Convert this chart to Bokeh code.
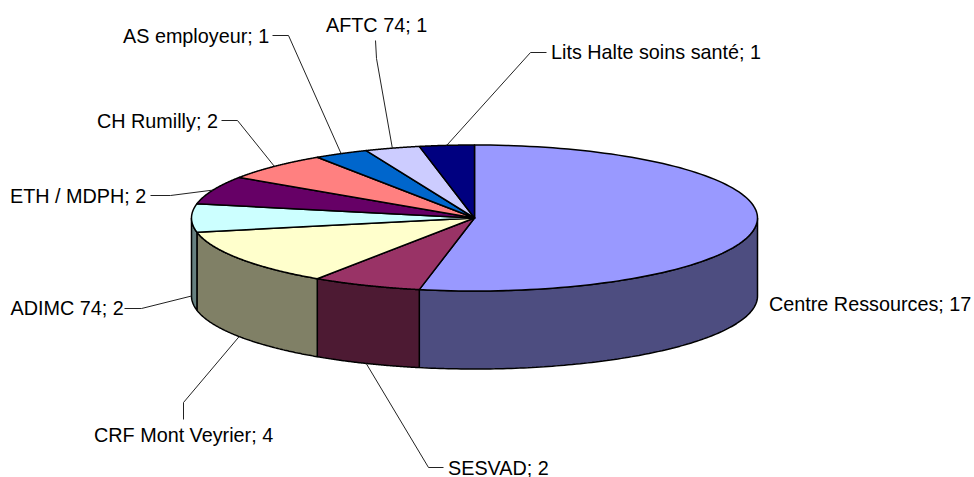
import numpy as np
from bokeh.plotting import figure
from bokeh.models import Range1d
from bokeh.core.properties import value
from bokeh.embed import file_html
from bokeh.resources import INLINE

names = ["Centre Ressources", "SESVAD", "CRF Mont Veyrier", "ADIMC 74", "ETH / MDPH",
         "CH Rumilly", "AS employeur", "AFTC 74", "Lits Halte soins santé"]
counts = [17, 2, 4, 2, 2, 2, 1, 1, 1]
top_colors = ["#9999FF", "#993366", "#FFFFCC", "#CCFFFF", "#660066",
              "#FF8080", "#0066CC", "#CCCCFF", "#000080"]
side_colors = ["#4D4D80", "#4D1A33", "#808066", "#668080", "#330033",
               "#804040", "#003366", "#666680", "#000040"]

# layout (picture pixels)
CX, CY, RX, RY, DEPTH = 474, 217.5, 283, 73, 78
label_x = [768.5, 447.5, 93.5, 10, 9.5, 96.5, 122.5, 325.5, 550.5]
label_y = [303, 467, 434.5, 307, 195, 120, 35, 24, 51]
elbow_x = [None, 428, 183, 141, 170, 237, 288, 376, 530]
elbow_y = [None, 467, 402, 308, 195, 120, 35, 58, 52]
start_x = [None, 443, 183, 124, 150, 221, 272, 375, 546]
start_y = [None, 467, 419, 308, 195, 120, 35, 40, 52]

def ell(deg, dz=0.0):
    a = np.radians(deg)
    return CX + RX * np.sin(a), CY - RY * np.cos(a) + dz

p = figure(width=974, height=477, output_backend="svg", toolbar_location=None,
           x_range=Range1d(0, 974), y_range=Range1d(477, 0),
           min_border=0, outline_line_color=None, background_fill_color="white",
           border_fill_color="white")
p.axis.visible = False
p.grid.visible = False

edges = np.cumsum([0] + counts) / sum(counts) * 360.0

# sides (only the front half is visible)
for i in range(len(counts)):
    a0, a1 = max(edges[i], 90.0), min(edges[i + 1], 270.0)
    if a1 <= a0:
        continue
    t = np.linspace(a0, a1, 120)
    x, y = ell(t)
    xb, yb = ell(t[::-1], DEPTH)
    p.patch(list(x) + list(xb), list(y) + list(yb), fill_color=side_colors[i],
            line_color="black", line_width=1.5)

# top faces
for i in range(len(counts)):
    t = np.linspace(edges[i], edges[i + 1], 120)
    x, y = ell(t)
    p.patch([CX] + list(x), [CY] + list(y), fill_color=top_colors[i],
            line_color="black", line_width=1.5, line_join="round")

# leader lines, ending at the middle of each slice's rim
for i in range(1, len(counts)):
    mid = (edges[i] + edges[i + 1]) / 2
    ax, ay = ell(mid, DEPTH if 90 <= mid <= 270 else 0)
    p.line([start_x[i], elbow_x[i], ax], [start_y[i], elbow_y[i], ay],
           line_color="#222222", line_width=1)

p.text(label_x, label_y, text=[f"{n}; {c}" for n, c in zip(names, counts)],
       text_font=value("Liberation Sans"), text_font_size="19.8px",
       text_color="black", text_baseline="middle", text_align="left")

open("out.html", "w").write(file_html(p, INLINE))
